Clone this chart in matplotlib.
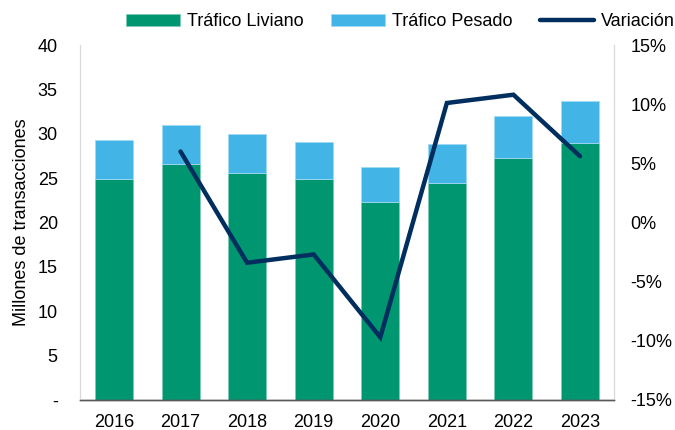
import numpy as np
import matplotlib
matplotlib.use("Agg")
import matplotlib.pyplot as plt
from matplotlib.ticker import FuncFormatter

# data
years = ["2016", "2017", "2018", "2019", "2020", "2021", "2022", "2023"]
liviano = [24.9, 26.6, 25.6, 24.9, 22.3, 24.5, 27.3, 29.0]
total = [29.3, 31.0, 30.0, 29.1, 26.3, 28.9, 32.0, 33.7]
pesado = [t - l for t, l in zip(total, liviano)]
var_years = ["2017", "2018", "2019", "2020", "2021", "2022", "2023"]
variacion = [6.0, -3.4, -2.7, -9.7, 10.1, 10.8, 5.6]

plt.rcParams["font.family"] = ["Liberation Sans", "DejaVu Sans"]
plt.rcParams["font.size"] = 13

c_liv = "#009670"
c_pes = "#42B4E6"
c_var = "#002F5F"

fig = plt.figure(figsize=(6.75, 4.3), dpi=100)
ax = fig.add_axes([0.1185, 0.0698, 0.7911, 0.8255])
x = np.arange(len(years))

b1 = ax.bar(x, liviano, width=0.57, color=c_liv, edgecolor="#7fcbb6", linewidth=0.6, label="Tráfico Liviano")
b2 = ax.bar(x, pesado, width=0.57, bottom=liviano, color=c_pes, edgecolor="#a0d9f2", linewidth=0.6, label="Tráfico Pesado")

ax.set_xlim(-0.51, 7.51)
ax.set_ylim(0, 40)
ax.set_yticks(range(0, 41, 5))
ax.yaxis.set_major_formatter(FuncFormatter(lambda v, p: "-" if v == 0 else f"{v:.0f}"))
ax.set_xticks(x)
ax.set_xticklabels(years)
ax.tick_params(axis="y", length=0, pad=16)
ax.tick_params(axis="x", length=0, pad=10)
ax.set_ylabel("Millones de transacciones", fontsize=13)
ax.yaxis.set_label_coords(-0.094, 0.5)

ax2 = ax.twinx()
vx = [years.index(y) for y in var_years]
ln, = ax2.plot(vx, variacion, color=c_var, linewidth=3.2, solid_capstyle="round", solid_joinstyle="miter", label="Variación")
ax2.set_ylim(-15, 15)
ax2.set_yticks(range(-15, 16, 5))
ax2.yaxis.set_major_formatter(FuncFormatter(lambda v, p: f"{v:.0f}%"))
ax2.tick_params(length=0, pad=12)

for a in (ax, ax2):
    a.spines["top"].set_visible(False)
    a.spines["left"].set_color("#d9d9d9")
    a.spines["right"].set_color("#d9d9d9")
    a.spines["bottom"].set_color("#595959")
    a.spines["bottom"].set_linewidth(1.0)

fig.legend(handles=[b1, b2, ln], loc="center", bbox_to_anchor=(0.593, 0.949), ncol=3, frameon=False,
           handlelength=3.0, handleheight=0.7, handletextpad=0.4, columnspacing=1.5, fontsize=13)

fig.savefig("out.png", dpi=100)
